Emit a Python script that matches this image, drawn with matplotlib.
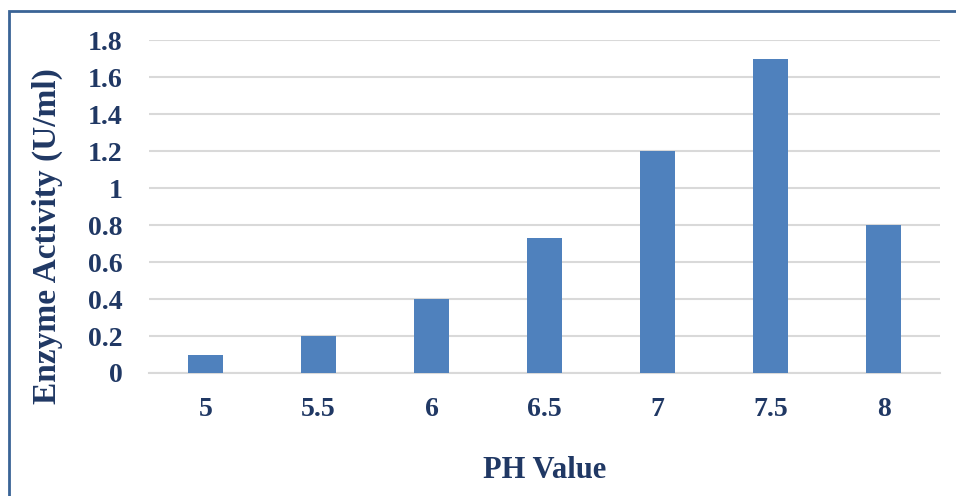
import matplotlib.pyplot as plt
from matplotlib.patches import Rectangle
import numpy as np

ph_values = ["5", "5.5", "6", "6.5", "7", "7.5", "8"]
activity = [0.1, 0.2, 0.4, 0.73, 1.2, 1.7, 0.8]
y_ticks = [0, 0.2, 0.4, 0.6, 0.8, 1, 1.2, 1.4, 1.6, 1.8]

text_color = "#203864"
bar_color = "#4F81BD"

plt.rcParams["font.family"] = ["Liberation Serif", "DejaVu Serif"]
plt.rcParams["font.weight"] = "bold"

fig = plt.figure(figsize=(9.56, 4.96), dpi=100)
ax = fig.add_axes([0.1559, 0.248, 0.8274, 0.671])

ind = np.arange(len(ph_values))
ax.bar(ind, activity, 0.31, color=bar_color, zorder=3)

ax.set_xlim(-0.5, len(ph_values) - 0.5)
ax.set_ylim(0, 1.8)
ax.set_yticks(y_ticks)
ax.set_yticklabels(["%g" % v for v in y_ticks])
ax.set_xticks(ind)
ax.set_xticklabels(ph_values)

ax.grid(axis="y", color="#D9D9D9", linewidth=1.5, zorder=0)
for side in ["top", "right", "left"]:
    ax.spines[side].set_visible(False)
ax.spines["bottom"].set_color("#D9D9D9")
ax.spines["bottom"].set_linewidth(1.5)
ax.tick_params(length=0, labelsize=20, labelcolor=text_color)
ax.tick_params(axis="y", pad=19)
ax.tick_params(axis="x", pad=17)

for lab in ax.get_xticklabels() + ax.get_yticklabels():
    lab.set_fontweight("bold")

ax.set_xlabel("PH Value", fontsize=22, fontweight="bold", color=text_color)
ax.set_ylabel("Enzyme Activity (U/ml)", fontsize=24, fontweight="bold", color=text_color)
ax.xaxis.set_label_coords(545 / 956, 1 - 456 / 496, transform=fig.transFigure)
ax.yaxis.set_label_coords(63 / 956, 1 - 236 / 496, transform=fig.transFigure)

# chart frame
fig.patches.append(Rectangle((9 / 956, -0.1), 1.2, 1 - 11 / 496 + 0.1,
                             transform=fig.transFigure, fill=False,
                             edgecolor="#3A6496", linewidth=2))

fig.savefig("out.png", dpi=100)
